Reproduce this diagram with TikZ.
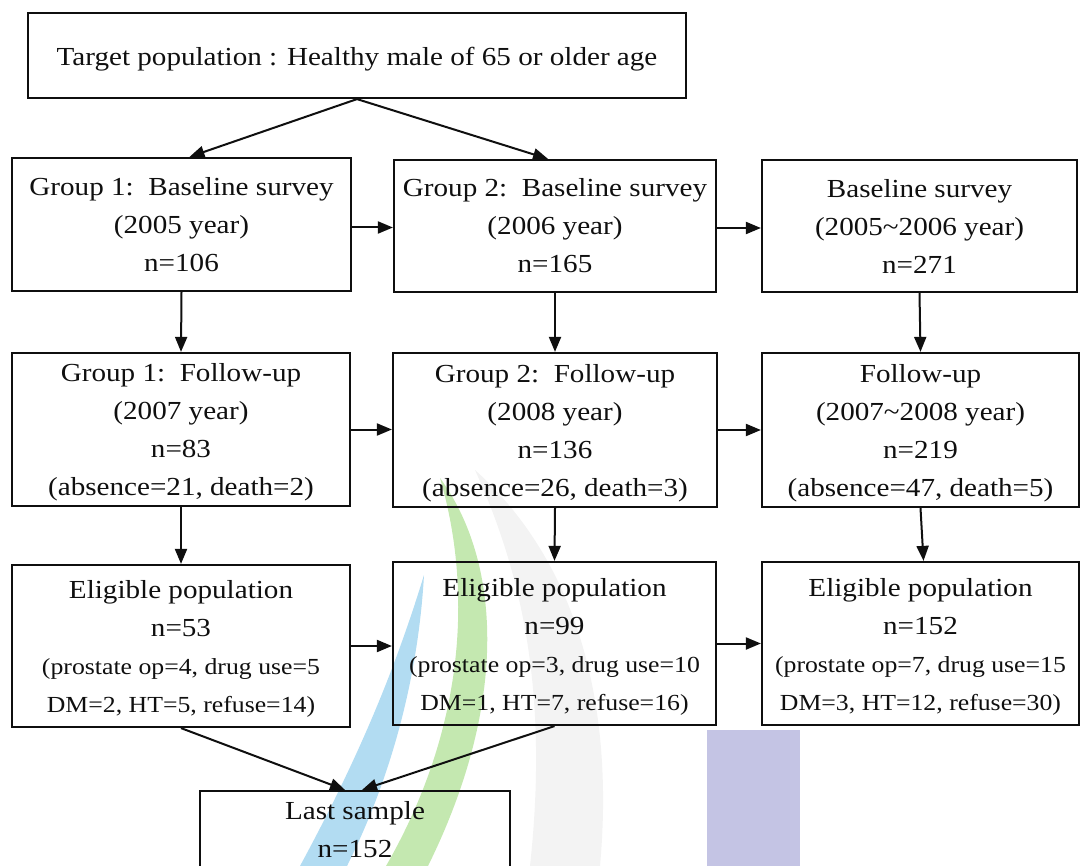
\documentclass[tikz,border=0pt]{standalone}
\usepackage{fontspec}
\setmainfont{Liberation Serif}[FakeStretch=1.12]
\usetikzlibrary{arrows.meta,calc}
\definecolor{wmblue}{RGB}{178,220,242}
\definecolor{wmgreen}{RGB}{196,232,176}
\definecolor{wmgrey}{RGB}{243,243,243}
\definecolor{wmpurple}{RGB}{196,196,228}
\definecolor{ink}{RGB}{15,15,15}
\newcommand{\dnstrut}{\rule{0pt}{24pt}}
\begin{document}
\begin{tikzpicture}[x=1pt,y=-1pt,
  box/.style={draw=ink,line width=2.2pt,align=center,inner sep=0pt,
    text=ink,font=\fontsize{26}{38}\selectfont},
  arr/.style={draw=ink,line width=2pt,-{Triangle[length=15pt,width=12pt]}}]
\useasboundingbox (0,0) rectangle (1081,866);
\begin{scope}
\clip (0,0) rectangle (1081,866);
% faint watermark shapes
\fill[wmgrey] (475,470) .. controls (575,560) and (615,700) .. (600,866)
  -- (530,866) .. controls (548,700) and (525,580) .. (475,470) -- cycle;
\fill[wmgreen] (440,478) .. controls (500,560) and (510,700) .. (428,866)
  -- (386,866) .. controls (470,720) and (470,580) .. (440,478) -- cycle;
\fill[wmblue] (424,575) .. controls (418,680) and (390,780) .. (347,866)
  -- (300,866) .. controls (352,770) and (392,680) .. (424,575) -- cycle;
\fill[wmpurple] (707,730) rectangle (800,866);

% nodes
\node[box,minimum width=658pt,minimum height=85pt] (top) at (357,55.5)
  {\rule{0pt}{25pt}Target population : Healthy male of 65 or older age};

\node[box,minimum width=339pt,minimum height=133pt] (b1) at (181.5,224.5)
  {Group 1:\ \ Baseline survey\\(2005 year)\\n=106};
\node[box,minimum width=322pt,minimum height=132pt] (b2) at (555,226)
  {Group 2:\ \ Baseline survey\\(2006 year)\\n=165};
\node[box,minimum width=315pt,minimum height=132pt] (b3) at (919.5,226)
  {Baseline survey\\(2005\textasciitilde2006 year)\\n=271};

\node[box,minimum width=338pt,minimum height=153pt] (f1) at (181,429.5)
  {\dnstrut Group 1:\ \ Follow-up\\(2007 year)\\n=83\\(absence=21, death=2)};
\node[box,minimum width=324pt,minimum height=154pt] (f2) at (555,430)
  {\dnstrut Group 2:\ \ Follow-up\\(2008 year)\\n=136\\(absence=26, death=3)};
\node[box,minimum width=317pt,minimum height=154pt] (f3) at (920.5,430)
  {\dnstrut Follow-up\\(2007\textasciitilde2008 year)\\n=219\\(absence=47, death=5)};

\node[box,minimum width=338pt,minimum height=162pt] (e1) at (181,646)
  {\dnstrut Eligible population\\n=53\\{\fontsize{23}{38}\selectfont (prostate op=4, drug use=5}\\{\fontsize{23}{38}\selectfont DM=2, HT=5, refuse=14)}};
\node[box,minimum width=323pt,minimum height=163pt] (e2) at (554.5,643.5)
  {\dnstrut Eligible population\\n=99\\{\fontsize{23}{38}\selectfont (prostate op=3, drug use=10}\\{\fontsize{23}{38}\selectfont DM=1, HT=7, refuse=16)}};
\node[box,minimum width=317pt,minimum height=163pt] (e3) at (920.5,643.5)
  {\dnstrut Eligible population\\n=152\\{\fontsize{23}{38}\selectfont (prostate op=7, drug use=15}\\{\fontsize{23}{38}\selectfont DM=3, HT=12, refuse=30)}};

\node[box,minimum width=310pt,minimum height=77pt] (last) at (355,829.5)
  {Last sample\\n=152};

% connectors
\draw[arr] (top.south) -- ([xshift=8pt]b1.north);
\draw[arr] (top.south) -- ([xshift=-7pt]b2.north);

\draw[arr] ([yshift=-3pt]b1.east) -- ([yshift=-3pt]b1.east -| b2.west);
\draw[arr] ([yshift=-2pt]b2.east) -- ([yshift=-2pt]b2.east -| b3.west);

\draw[arr] (b1.south) -- (f1.north);
\draw[arr] (b2.south) -- (f2.north);
\draw[arr] (b3.south) -- (f3.north);

\draw[arr] (f1.east) -- (f1.east -| f2.west);
\draw[arr] (f2.east) -- (f2.east -| f3.west);

\draw[arr] (f1.south) -- (e1.north);
\draw[arr] (f2.south) -- (e2.north);
\draw[arr] (f3.south) -- ([xshift=3pt]e3.north);

\draw[arr] (e1.east) -- (e1.east -| e2.west);
\draw[arr] (e2.east) -- (e2.east -| e3.west);

\draw[arr] (e1.south) -- ([xshift=-10pt]last.north);
\draw[arr] (e2.south) -- ([xshift=7pt]last.north);
\end{scope}
\end{tikzpicture}
\end{document}
